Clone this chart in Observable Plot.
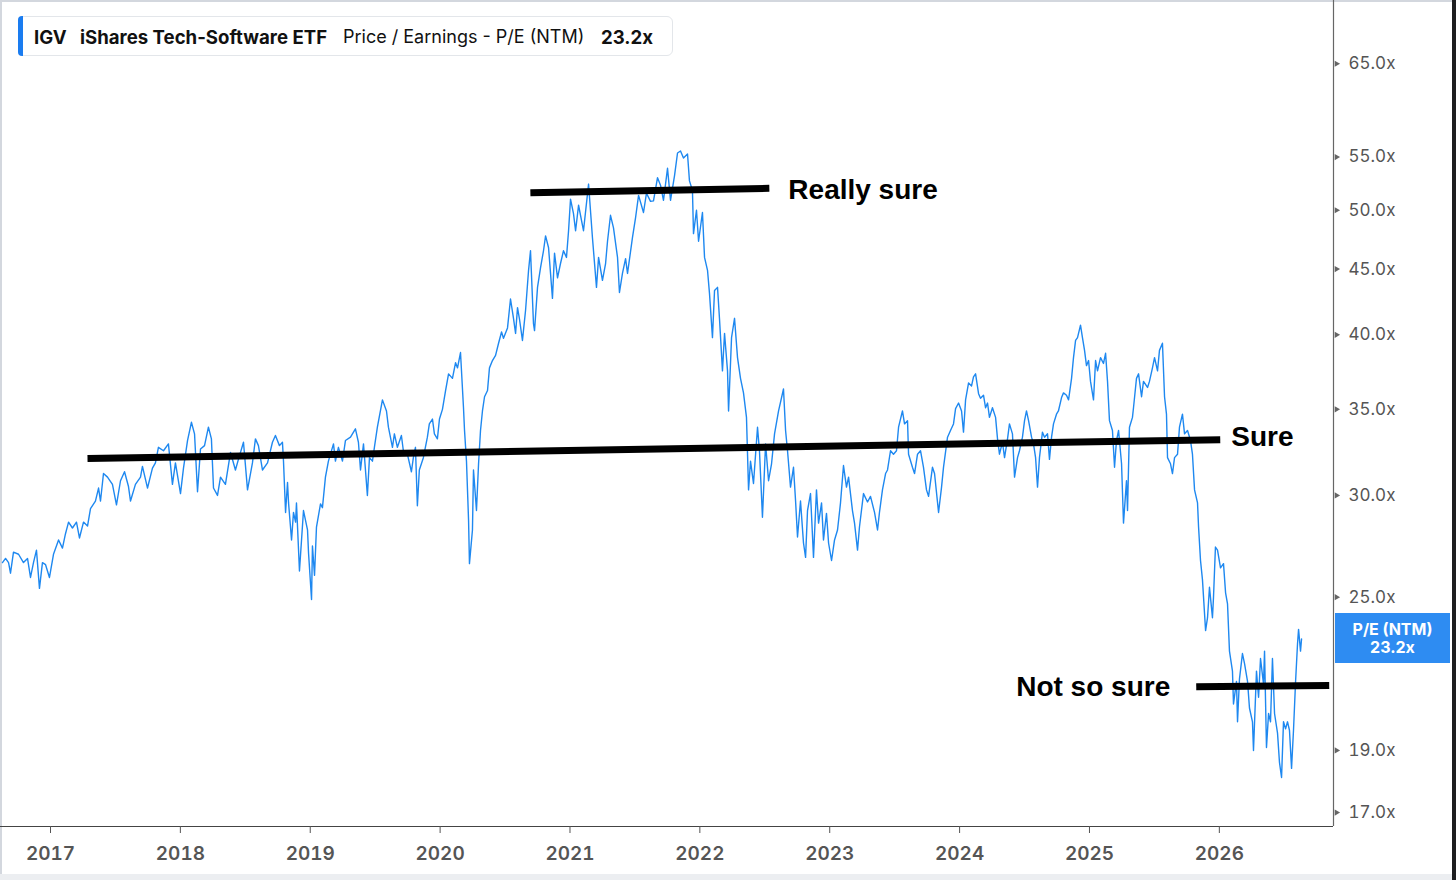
<!DOCTYPE html>
<html>
<head>
<meta charset="utf-8">
<script src="https://cdn.jsdelivr.net/npm/d3@7"></script>
<script src="https://cdn.jsdelivr.net/npm/@observablehq/plot@0.6"></script>
<style>
  html, body { margin: 0; padding: 0; }
  body { background: #1e1e20; width: 1456px; height: 880px; overflow: hidden; font-family: Inter, "Noto Sans", sans-serif; }
  #page { position: absolute; left: 0; top: 0; width: 1452px; height: 880px; background: #eceef1; }
  #card { position: absolute; left: 0; top: 0; width: 1452px; height: 874px; background: #fff;
          border-top: 2px solid #d3d7de; border-left: 2px solid #d3d7de; box-sizing: border-box; }
  #chart { position: absolute; left: 0; top: 0; }
  #header { position: absolute; left: 18px; top: 16px; width: 655px; height: 40px; box-sizing: border-box;
            border: 1px solid #e3e6ea; border-radius: 6px; background: #fff; }
  #header .bar { position: absolute; left: -1px; top: -1px; width: 5px; height: 40px; background: #1a7cf0; border-radius: 4px 0 0 4px; }
  #header span { position: absolute; top: 10px; font-size: 18px; line-height: 20px; color: #111; white-space: nowrap; }
  #header .b { font-weight: 700; font-size: 18.6px; }
  #valbox { position: absolute; left: 1335px; width: 115px; height: 50px; background: #2e8cf2; color: #fff;
            font-weight: 700; font-size: 16px; line-height: 18px; text-align: center; box-sizing: border-box; padding-top: 7px; }
</style>
</head>
<body>
<div id="page"></div>
<div id="card"></div>
<div id="chart"></div>
<div id="header">
  <div class="bar"></div>
  <span class="b" style="left:15px">IGV</span>
  <span class="b" style="left:61px">iShares Tech-Software ETF</span>
  <span style="left:324px">Price / Earnings - P/E (NTM)</span>
  <span class="b" style="left:582px">23.2x</span>
</div>
<div id="valbox"><div>P/E (NTM)</div><div>23.2x</div></div>
<script>
// ---- data (decimal year, P/E NTM) ----
const pePoints = [
[2016.630,26.6],[2016.654,26.8],[2016.677,26.6],[2016.692,26.1],[2016.715,27.1],[2016.754,27.0],[2016.792,26.6],[2016.823,26.8],
[2016.846,25.9],[2016.869,26.6],[2016.892,27.2],[2016.915,25.4],[2016.938,26.6],[2016.962,26.5],[2016.992,25.9],
[2017.023,27.0],[2017.062,27.7],[2017.092,27.3],[2017.115,28.0],[2017.139,28.6],[2017.169,28.3],[2017.200,28.6],[2017.223,27.8],
[2017.254,28.6],[2017.285,28.4],[2017.308,29.3],[2017.346,29.7],[2017.370,30.4],[2017.385,29.7],[2017.408,31.2],[2017.439,31.0],
[2017.477,30.6],[2017.508,29.5],[2017.539,30.8],[2017.570,31.3],[2017.600,30.5],[2017.616,29.7],[2017.654,30.6],[2017.693,31.0],
[2017.708,31.6],[2017.747,30.4],[2017.785,31.5],[2017.808,31.8],[2017.831,32.7],[2017.870,32.5],[2017.908,32.9],[2017.939,30.6],
[2017.962,31.8],[2018.001,30.1],[2018.024,31.5],[2018.055,33.1],[2018.085,34.2],[2018.109,33.5],[2018.132,30.2],[2018.155,32.6],
[2018.186,32.8],[2018.216,33.9],[2018.239,33.2],[2018.255,30.4],[2018.286,30.0],[2018.309,31.0],[2018.347,30.6],[2018.386,32.4],
[2018.424,31.4],[2018.447,32.0],[2018.486,33.0],[2018.517,30.3],[2018.555,31.8],[2018.578,33.2],[2018.601,32.8],[2018.632,31.4],
[2018.671,31.8],[2018.709,33.0],[2018.732,33.4],[2018.763,32.8],[2018.786,33.0],
[2018.794,31.9],[2018.810,29.1],[2018.825,30.7],[2018.833,29.6],[2018.856,27.7],[2018.871,29.1],[2018.887,28.6],[2018.894,29.6],
[2018.917,26.2],[2018.948,29.2],[2018.979,28.2],[2018.987,27.05],[2019.010,24.9],[2019.017,27.4],[2019.033,26.0],[2019.048,28.35],
[2019.079,29.55],[2019.094,29.35],[2019.117,31.0],[2019.140,31.9],[2019.179,32.9],[2019.194,31.9],[2019.217,32.7],[2019.248,31.9],
[2019.271,33.1],[2019.310,33.3],[2019.348,33.8],[2019.371,33.0],[2019.387,31.4],[2019.410,32.9],[2019.440,30.0],[2019.456,32.1],
[2019.479,31.9],[2019.494,32.7],[2019.517,33.9],[2019.556,35.6],[2019.587,34.9],[2019.602,33.9],[2019.633,32.7],[2019.648,33.5],
[2019.671,32.7],[2019.702,33.4],[2019.717,32.5],[2019.748,32.3],[2019.779,31.3],[2019.794,32.1],[2019.810,32.7],[2019.825,29.45],
[2019.840,31.4],[2019.871,32.1],[2019.902,33.3],[2019.917,34.1],[2019.941,34.4],[2019.956,33.5],[2019.979,33.2],[2019.995,34.4],
[2020.018,35.0],[2020.042,36.2],[2020.065,37.3],[2020.095,37.0],[2020.119,38.05],[2020.134,37.7],[2020.157,38.75],[2020.180,35.1],
[2020.188,33.7],[2020.203,31.9],[2020.219,28.7],[2020.226,26.55],[2020.249,28.2],[2020.257,31.4],[2020.280,29.2],[2020.296,31.75],
[2020.311,33.7],[2020.326,34.9],[2020.342,35.8],[2020.365,36.2],[2020.380,37.7],[2020.403,38.2],[2020.427,38.55],[2020.450,39.4],
[2020.473,40.2],[2020.488,39.75],[2020.519,40.5],[2020.542,42.65],[2020.565,41.2],[2020.581,40.1],[2020.596,42.0],[2020.611,41.15],
[2020.634,39.6],[2020.658,41.8],[2020.681,44.9],[2020.696,46.5],[2020.719,40.8],[2020.727,40.3],[2020.750,43.55],[2020.773,45.1],
[2020.796,46.5],[2020.812,47.75],[2020.835,46.75],[2020.865,42.7],[2020.881,46.3],[2020.904,44.3],[2020.927,45.45],[2020.950,46.5],
[2020.973,45.95],[2020.989,48.2],[2021.004,51.0],[2021.027,49.7],[2021.043,48.2],[2021.066,50.45],
[2021.104,48.2],[2021.143,52.4],[2021.173,47.6],[2021.204,43.55],[2021.220,45.95],[2021.250,44.1],[2021.274,45.45],[2021.289,47.3],
[2021.312,49.55],[2021.335,48.45],[2021.366,45.95],[2021.381,43.15],[2021.404,44.65],[2021.428,45.85],[2021.443,44.65],[2021.481,47.6],
[2021.505,49.35],[2021.528,51.35],[2021.566,49.8],[2021.589,51.55],[2021.620,50.8],[2021.643,50.85],[2021.674,53.0],[2021.697,52.3],
[2021.720,50.9],[2021.751,53.9],[2021.774,50.9],[2021.805,53.2],[2021.828,55.4],[2021.851,55.6],[2021.874,54.9],[2021.905,55.3],
[2021.920,52.7],[2021.943,51.8],[2021.951,47.95],[2021.974,50.0],[2021.990,47.3],[2022.020,49.8],[2022.036,45.95],[2022.059,44.9],
[2022.074,43.1],[2022.097,39.8],[2022.113,43.3],[2022.136,43.55],[2022.151,41.2],[2022.174,37.5],[2022.190,40.1],[2022.213,37.5],
[2022.221,34.9],[2022.244,39.8],[2022.267,41.2],[2022.290,38.4],[2022.313,37.0],[2022.336,36.05],[2022.359,34.5],[2022.375,30.3],
[2022.390,31.9],[2022.413,30.65],[2022.444,33.9],[2022.459,32.5],[2022.482,28.85],[2022.506,32.9],[2022.529,30.8],[2022.552,31.75],
[2022.575,33.5],[2022.606,34.9],
[2022.644,36.3],[2022.660,33.7],[2022.675,32.5],[2022.698,30.45],[2022.721,31.55],[2022.737,29.7],[2022.752,27.85],[2022.775,29.7],
[2022.798,27.55],[2022.814,26.85],[2022.829,29.2],[2022.852,30.1],[2022.875,26.85],[2022.898,30.3],[2022.914,28.55],[2022.937,29.6],
[2022.952,27.7],[2022.975,29.05],[2022.991,27.55],[2023.014,26.7],[2023.037,27.7],[2023.060,28.2],[2023.083,29.6],[2023.106,31.65],
[2023.129,30.45],[2023.145,31.0],[2023.175,29.2],[2023.191,28.55],[2023.214,27.2],[2023.229,28.35],[2023.260,30.1],[2023.291,29.65],
[2023.314,29.95],[2023.345,29.1],[2023.368,28.2],[2023.383,29.1],[2023.406,30.3],[2023.430,31.2],[2023.445,31.4],[2023.468,32.5],
[2023.491,32.3],[2023.514,32.5],[2023.530,33.9],[2023.560,34.9],[2023.576,34.1],[2023.599,34.3],[2023.607,32.3],[2023.637,31.55],
[2023.653,31.2],[2023.676,32.3],[2023.699,32.5],[2023.722,31.55],[2023.745,30.3],[2023.761,29.95],[2023.791,31.55],[2023.807,31.2],
[2023.838,29.1],[2023.861,30.45],[2023.876,31.55],[2023.907,33.3],[2023.930,33.7],[2023.953,34.1],[2023.969,35.05],[2023.992,35.4],
[2024.015,34.9],[2024.030,33.6],[2024.046,35.6],[2024.069,36.7],[2024.092,36.5],[2024.107,37.1],[2024.123,37.3],[2024.146,36.0],
[2024.161,35.7],[2024.184,35.9],[2024.200,35.1],[2024.215,35.4],[2024.230,34.5],[2024.253,35.1],[2024.277,34.5],[2024.292,33.2],
[2024.307,32.3],[2024.330,33.0],[2024.346,32.1],[2024.369,33.2],[2024.384,34.1],[2024.407,33.5],[2024.423,31.0],[2024.446,32.1],
[2024.461,32.5],[2024.484,33.3],[2024.500,34.3],[2024.515,34.9],[2024.531,34.3],[2024.554,33.3],[2024.569,32.9],[2024.585,32.1],
[2024.600,30.45],[2024.615,32.1],[2024.638,33.6],[2024.654,33.3],[2024.677,33.5],[2024.692,32.0],[2024.708,33.3],[2024.723,34.1],
[2024.746,34.7],[2024.761,34.9],[2024.785,35.75],[2024.800,36.05],[2024.823,35.9],[2024.839,35.6],[2024.862,37.0],[2024.877,38.4],
[2024.893,39.6],[2024.908,39.8],[2024.931,40.7],[2024.946,39.8],[2024.962,38.9],[2024.977,37.85],[2024.993,38.2],
[2025.008,36.8],[2025.031,35.6],[2025.047,38.2],[2025.062,37.5],[2025.085,38.4],[2025.108,38.0],[2025.124,38.7],[2025.139,36.8],
[2025.154,34.3],[2025.177,33.7],[2025.193,31.55],[2025.208,33.1],[2025.224,33.7],[2025.247,31.75],[2025.262,28.55],[2025.285,30.8],
[2025.293,29.2],[2025.308,33.9],[2025.331,34.5],[2025.339,35.1],[2025.362,37.0],[2025.378,37.3],[2025.401,35.8],[2025.416,36.8],
[2025.447,36.4],[2025.462,36.8],[2025.485,37.7],[2025.501,38.4],[2025.524,37.5],[2025.539,38.9],[2025.562,39.4],[2025.578,35.8],
[2025.593,34.7],[2025.601,32.1],[2025.624,31.75],[2025.639,31.2],[2025.655,32.1],[2025.678,32.3],[2025.693,33.9],[2025.716,34.7],
[2025.732,33.5],[2025.755,33.7],[2025.778,33.1],[2025.793,32.3],[2025.809,30.3],[2025.832,29.6],[2025.840,28.35],[2025.855,26.7],
[2025.870,25.8],[2025.894,23.55],[2025.909,24.1],[2025.924,25.45],[2025.947,24.1],[2025.955,25.0],[2025.970,27.35],[2025.986,27.2],
[2026.009,26.35],[2026.032,26.55],[2026.048,25.2],[2026.063,24.7],[2026.078,22.7],[2026.101,21.9],[2026.109,20.65],[2026.132,21.5],
[2026.140,20.0],[2026.155,21.6],[2026.178,22.6],[2026.194,22.2],[2026.217,21.5],[2026.232,20.5],[2026.255,20.0],[2026.263,19.0],
[2026.286,21.9],[2026.302,20.9],[2026.317,22.4],[2026.340,21.4],[2026.348,22.7],[2026.363,19.1],[2026.379,20.3],[2026.394,20.0],
[2026.409,22.4],[2026.425,20.3],[2026.448,19.6],[2026.463,18.6],[2026.479,18.1],[2026.494,20.0],[2026.510,19.75],[2026.525,20.0],
[2026.540,19.7],[2026.556,18.4],[2026.571,19.7],[2026.587,21.5],[2026.602,23.0],[2026.610,23.6],[2026.625,22.7],[2026.633,23.2]
];

const yearTicks = [2017, 2018, 2019, 2020, 2021, 2022, 2023, 2024, 2025, 2026];
const peTicks = [17, 19, 25, 30, 35, 40, 45, 50, 55, 65];
const xDomain = [2016.615, 2026.879];
const yDomain = [16.58, 72.8];
const latestPE = 23.2;

// hand-drawn annotation lines: [x1, y1, x2, y2]
const annoLines = [
  [2020.695, 51.6, 2022.535, 52.0],
  [2017.285, 32.05, 2026.007, 33.15],
  [2025.822, 21.3, 2026.846, 21.34]
];
// annotation labels: [text, x, y, anchor, dx]
const annoLabels = [
  ["Really sure", 2022.535, 51.8, "start", 19],
  ["Sure", 2026.007, 33.3, "start", 11],
  ["Not so sure", 2025.822, 21.3, "end", -26]
];

// ---- build ----
const series = pePoints.map(([date, pe]) => ({date, pe}));
const links = annoLines.map(([x1, y1, x2, y2]) => ({x1, y1, x2, y2}));
const labels = annoLabels.map(([text, x, y, anchor, dx]) => ({text, x, y, anchor, dx}));

const plot = Plot.plot({
  width: 1452,
  height: 874,
  marginLeft: 0,
  marginRight: 119,
  marginTop: 0,
  marginBottom: 48,
  x: {type: "linear", domain: xDomain},
  y: {type: "log", domain: yDomain},
  style: {fontFamily: "Inter, 'Noto Sans', sans-serif", background: "transparent", overflow: "visible"},
  marks: [
    Plot.ruleY([yDomain[0]], {stroke: "#444", strokeWidth: 1.2}),
    Plot.ruleX([xDomain[1]], {stroke: "#666", strokeWidth: 1.2}),
    Plot.axisX(yearTicks, {tickSize: 7, tickPadding: 13, tickFormat: d => String(d), fontSize: 19, fontWeight: 600, color: "#555", label: null}),
    Plot.axisY(peTicks, {anchor: "right", tickSize: 0, tickPadding: 15, tickFormat: d => d.toFixed(1) + "x", fontSize: 17, color: "#555", label: null}),
    Plot.dot(peTicks, {x: d => xDomain[1], y: d => d, symbol: "triangle", rotate: 90, r: 2.3, fill: "#666", stroke: null, dx: 3}),
    Plot.line(series, {x: "date", y: "pe", stroke: "#1e88f0", strokeWidth: 1.4}),
    Plot.link(links, {x1: "x1", y1: "y1", x2: "x2", y2: "y2", stroke: "#000", strokeWidth: 7, strokeLinecap: "butt"}),
    ...labels.map(d => Plot.text([d], {
      x: "x", y: "y", text: "text", textAnchor: d.anchor, dx: d.dx,
      fontSize: 28, fontWeight: "bold", fill: "#000", fontFamily: "'Liberation Sans', Arial, sans-serif"
    }))
  ]
});
document.getElementById("chart").appendChild(plot);

// latest value box on the right axis, positioned with the plot's y scale
const ys = plot.scale("y");
document.getElementById("valbox").style.top = (ys.apply(latestPE) - 25) + "px";
</script>
</body>
</html>
